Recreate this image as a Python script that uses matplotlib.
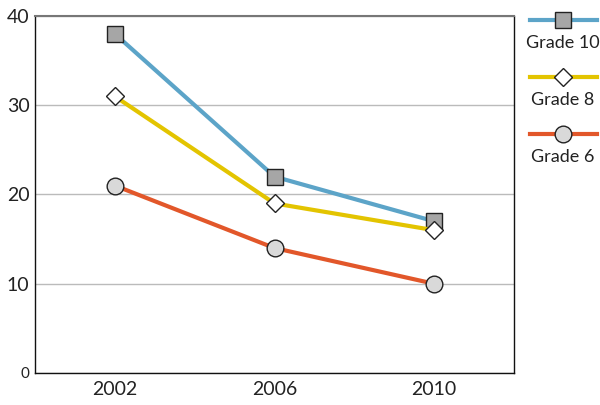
import numpy as np
import matplotlib
matplotlib.use("Agg")
import matplotlib.pyplot as plt
from matplotlib.lines import Line2D

plt.rcParams['font.family'] = ['Lato', 'DejaVu Sans']

years = ['2002', '2006', '2010']
grade10 = [38, 22, 17]
grade8 = [31, 19, 16]
grade6 = [21, 14, 10]
yticks = [0, 10, 20, 30, 40]

series = [
    ('Grade 10', grade10, '#5CA4C8', 's', '#A6A6A6', 11),
    ('Grade 8', grade8, '#E3C400', 'D', 'white', 9),
    ('Grade 6', grade6, '#E2572A', 'o', '#D9D9D9', 12),
]

fig = plt.figure(figsize=(6, 4.05), dpi=100)
ax = fig.add_axes([35/600, 32/405, 479/600, 357/405])

x = np.arange(len(years))
for name, vals, col, mk, fc, ms in series:
    ax.plot(x, vals, color=col, lw=3, marker=mk, markersize=ms,
            markerfacecolor=fc, markeredgecolor='#222222', markeredgewidth=1,
            zorder=3, clip_on=False)

ax.set_xlim(-0.5, 2.5)
ax.set_ylim(0, 40)
ax.set_xticks(x)
ax.set_xticklabels(years, fontsize=14, color='#222222')
ax.set_yticks(yticks)
ax.set_yticklabels([str(v) for v in yticks], fontsize=14, color='#222222')
ax.get_yticklabels()[0].set_fontsize(11)
ax.tick_params(length=0, pad=6)
ax.tick_params(axis='y', pad=4)
ax.yaxis.grid(True, color='#BBBBBB', lw=1)
ax.set_axisbelow(True)
for s in ['left', 'bottom', 'right']:
    ax.spines[s].set_color('#111111')
    ax.spines[s].set_linewidth(1)
ax.spines['top'].set_color('#777777')
ax.spines['top'].set_linewidth(1.5)

# legend drawn by hand: line+marker on top, label below
leg_y = [20, 77, 134]
for (name, vals, col, mk, fc, ms), yy in zip(series, leg_y):
    yf = 1 - yy / 405
    fig.add_artist(Line2D([530/600, 597/600], [yf, yf], color=col, lw=3,
                          transform=fig.transFigure))
    fig.add_artist(Line2D([563/600], [yf], marker=mk, markersize=ms,
                          markerfacecolor=fc, markeredgecolor='#222222',
                          markeredgewidth=1, transform=fig.transFigure))
    fig.text(563/600, 1 - (yy + 23) / 405, name, ha='center', va='center',
             fontsize=13, color='#222222')

fig.savefig('out.png', dpi=100)
